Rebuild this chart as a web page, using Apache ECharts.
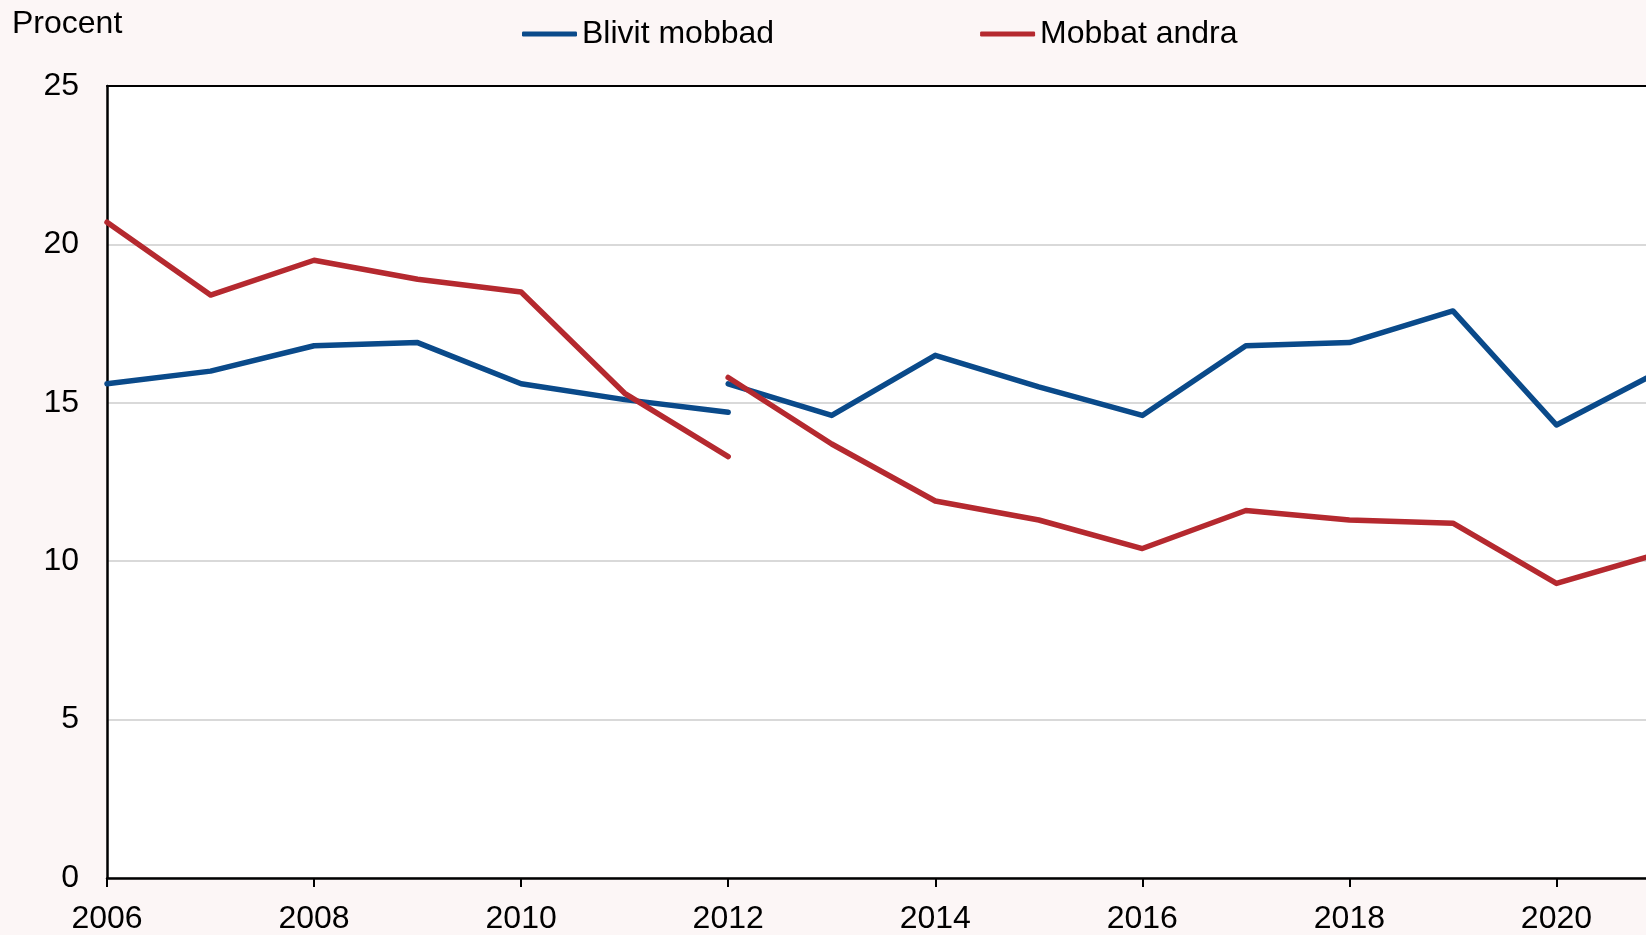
<!DOCTYPE html>
<html>
<head>
<meta charset="utf-8">
<title>Mobbning</title>
<script src="https://cdn.jsdelivr.net/npm/echarts@6/dist/echarts.min.js"></script>
<style>
  html, body { margin: 0; padding: 0; background: #fcf6f6; }
  #chart { width: 1646px; height: 935px; }
</style>
</head>
<body>
<div id="chart"></div>
<script>
// serien bryts 2012 (ny metod), darfor tva delar per linje
var years1 = [2006, 2007, 2008, 2009, 2010, 2011, 2012];
var years2 = [2012, 2013, 2014, 2015, 2016, 2017, 2018, 2019, 2020, 2021];

var blivit1 = [15.6, 16.0, 16.8, 16.9, 15.6, 15.1, 14.7];
var blivit2 = [15.6, 14.6, 16.5, 15.5, 14.6, 16.8, 16.9, 17.9, 14.3, 16.0];

var mobbat1 = [20.7, 18.4, 19.5, 18.9, 18.5, 15.3, 13.3];
var mobbat2 = [15.8, 13.7, 11.9, 11.3, 10.4, 11.6, 11.3, 11.2, 9.3, 10.25];

var xTickLabels = ['2006', '2008', '2010', '2012', '2014', '2016', '2018', '2020'];
var yTickLabels = ['0', '5', '10', '15', '20', '25'];

var seriesNames = ['Blivit mobbad', 'Mobbat andra'];
var blue = '#0a4a8a';
var red = '#b5292f';
var font = 'Liberation Sans, Arial, sans-serif';

function pairs(xs, ys) {
  return xs.map(function (x, i) { return [x, ys[i]]; });
}

function lineSeries(name, color, data) {
  return {
    name: name,
    type: 'line',
    data: data,
    xAxisIndex: 0,
    symbol: 'none',
    showSymbol: false,
    color: color,
    lineStyle: { color: color, width: 5.5, cap: 'round', join: 'round' },
    clip: true,
    animation: false
  };
}

var dom = echarts.init(document.getElementById('chart'));

var option = {
  backgroundColor: '#fcf6f6',
  animation: false,
  title: {
    text: 'Procent',
    left: 12,
    top: 8,
    padding: 0,
    textStyle: { fontSize: 32, fontWeight: 'normal', color: '#000', fontFamily: font }
  },
  legend: {
    data: seriesNames,
    left: 522,
    top: 18,
    padding: 0,
    icon: 'roundRect',
    itemWidth: 55,
    itemHeight: 5,
    itemGap: 206,
    textStyle: { fontSize: 32, color: '#000', fontFamily: font }
  },
  grid: {
    left: 107,
    right: 0,
    top: 86,
    bottom: 51,
    show: true,
    backgroundColor: '#ffffff',
    borderWidth: 0,
    containLabel: false
  },
  xAxis: [
    {
      type: 'value',
      min: 2006,
      // bilden ar beskuren strax fore 2021
      max: 2020.865,
      interval: 2,
      axisLine: { show: true, onZero: false, lineStyle: { color: '#000', width: 2.5 } },
      axisTick: { show: true, length: 9, lineStyle: { color: '#000', width: 2 } },
      splitLine: { show: false },
      axisLabel: {
        margin: 25,
        fontSize: 32,
        color: '#000',
        fontFamily: font,
        showMaxLabel: false,
        formatter: function (v) {
          var s = String(v);
          return xTickLabels.indexOf(s) >= 0 ? s : '';
        }
      }
    },
    {
      // bara ramlinjen overst
      type: 'value',
      position: 'top',
      min: 2006,
      max: 2020.865,
      axisLine: { show: true, onZero: false, lineStyle: { color: '#000', width: 2 } },
      axisTick: { show: false },
      axisLabel: { show: false },
      splitLine: { show: false }
    }
  ],
  yAxis: {
    type: 'value',
    min: 0,
    max: 25,
    interval: 5,
    axisLine: { show: true, lineStyle: { color: '#000', width: 2.5 } },
    axisTick: { show: false },
    splitLine: { show: true, lineStyle: { color: '#d9d9d9', width: 2 } },
    axisLabel: {
      margin: 28,
      fontSize: 32,
      color: '#000',
      fontFamily: font,
      formatter: function (v) {
        var s = String(v);
        return yTickLabels.indexOf(s) >= 0 ? s : '';
      }
    }
  },
  series: [
    lineSeries(seriesNames[0], blue, pairs(years1, blivit1)),
    lineSeries(seriesNames[0], blue, pairs(years2, blivit2)),
    lineSeries(seriesNames[1], red, pairs(years1, mobbat1)),
    lineSeries(seriesNames[1], red, pairs(years2, mobbat2))
  ]
};

dom.setOption(option);
window.addEventListener('resize', function () {
  dom.resize();
});
</script>
</body>
</html>
